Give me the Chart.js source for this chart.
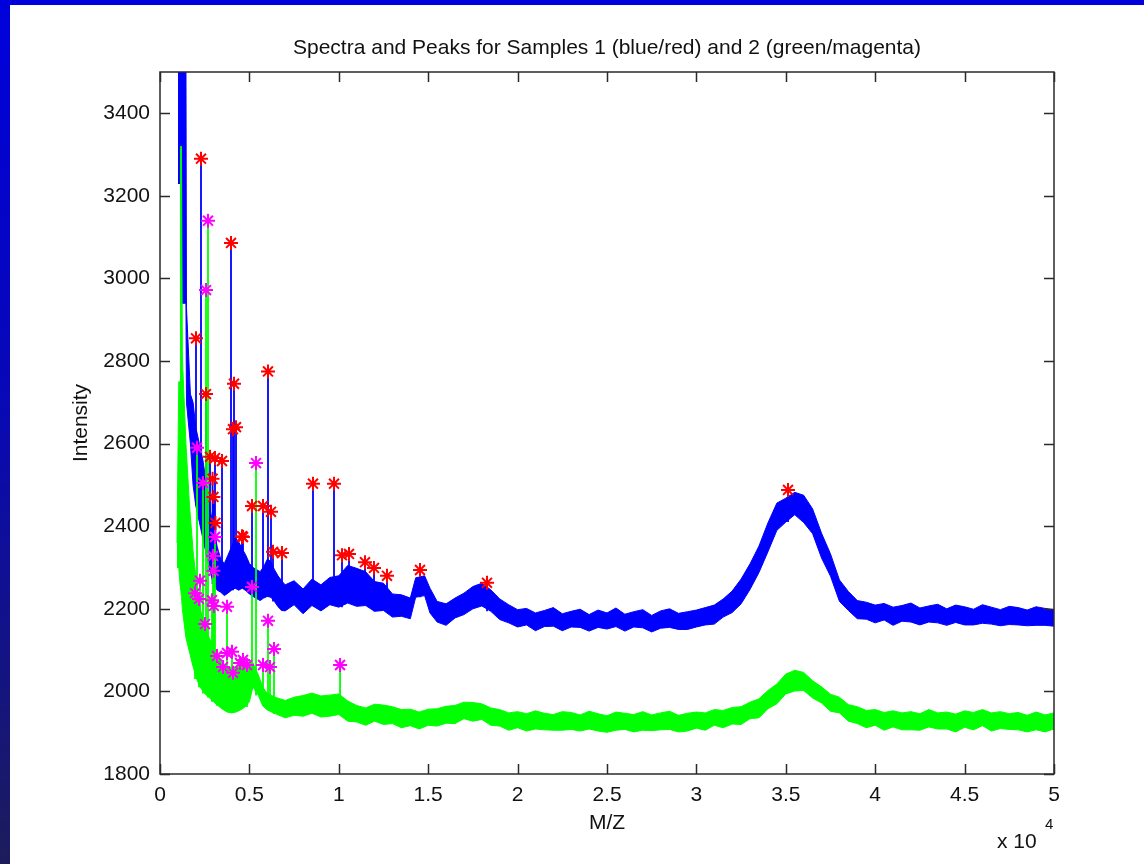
<!DOCTYPE html>
<html>
<head>
<meta charset="utf-8">
<script src="https://cdn.jsdelivr.net/npm/chart.js@4.4.1/dist/chart.umd.min.js"></script>
<style>
  html, body { margin: 0; padding: 0; }
  body {
    width: 1144px; height: 864px; overflow: hidden; position: relative;
    background: linear-gradient(to bottom, #0000dc 0%, #0808b8 45%, #1c1c5c 100%);
  }
  #panel { position: absolute; left: 10px; top: 5px; width: 1134px; height: 859px; background: #fff; }
</style>
</head>
<body>
<div id="panel"><canvas id="spectra" width="1134" height="859"></canvas></div>
<script>
// Sample 1 spectrum: noise band as upper / lower envelope per m/z
const blueMz = [1000, 1150, 1180, 1450, 1480, 1700, 1850,
  2000, 2200, 2400, 2600, 2800, 3000, 3200, 3400, 3600, 3800, 4000, 4200, 4400, 4600, 4800,
  5000, 5200, 5400, 5600, 5800, 6000, 6200, 6400, 6600, 6800, 7000,
  7500, 8000, 8500, 9000, 9500, 10000, 10500, 11000, 11500, 12000, 12500, 13000, 13500, 14000,
  14300, 14800, 15100,
  15500, 16000, 16500, 17000, 17500, 18000, 18500, 19000, 19500, 20000,
  20500, 21000, 21500, 22000, 22500, 23000, 23500, 24000, 24500, 25000,
  25500, 26000, 26500, 27000, 27500, 28000, 28500, 29000, 29500, 30000,
  30500, 31000, 31500, 32000, 32500, 33000, 33500, 34000, 34500, 35000,
  35500, 36000, 36500, 37000, 37500, 38000, 38500, 39000, 39500, 40000,
  40500, 41000, 41500, 42000, 42500, 43000, 43500, 44000, 44500, 45000,
  45500, 46000, 46500, 47000, 47500, 48000, 48500, 49000, 49500, 50000];
const blueHigh = [3560, 3560, 3560, 3560, 2930, 2720, 2700,
  2640, 2600, 2560, 2500, 2440, 2400, 2350, 2320, 2310, 2330, 2350, 2372, 2362, 2345, 2330,
  2310, 2300, 2295, 2290, 2302, 2320, 2315, 2295, 2280, 2268, 2258,
  2268, 2248, 2272, 2258, 2276, 2280, 2305, 2298, 2290, 2266, 2262, 2236, 2234, 2226,
  2275, 2280, 2250,
  2218, 2212, 2226, 2238, 2254, 2262, 2246, 2224, 2210, 2198,
  2201, 2190, 2196, 2203, 2188, 2194, 2199, 2186, 2197, 2190,
  2202, 2187, 2193, 2198, 2184, 2195, 2200, 2189, 2193, 2197,
  2203, 2209, 2224, 2243, 2272, 2309, 2352, 2408, 2456, 2468,
  2482, 2475, 2442, 2383, 2333, 2270, 2242, 2220, 2216, 2209,
  2213, 2204, 2208, 2214, 2202, 2207, 2211, 2200, 2209, 2205,
  2199, 2210, 2204, 2198, 2206, 2203, 2197, 2205, 2201, 2198];
const blueLow = [3230, 3230, 2940, 2940, 2700, 2600, 2500,
  2450, 2410, 2370, 2330, 2290, 2260, 2245, 2240, 2232, 2238, 2245, 2250, 2245, 2250, 2244,
  2236, 2230, 2225, 2220, 2226, 2230, 2228, 2218, 2205, 2196, 2195,
  2210, 2188, 2208, 2195, 2210, 2204, 2214, 2206, 2208, 2194, 2196, 2180, 2182, 2176,
  2228, 2232, 2190,
  2168, 2160, 2178, 2186, 2200, 2207, 2194, 2174, 2166, 2156,
  2161, 2147, 2157, 2158, 2147, 2156, 2155, 2146, 2155, 2151,
  2157, 2146, 2156, 2154, 2144, 2153, 2155, 2150, 2150, 2156,
  2161, 2163, 2180, 2191, 2212, 2247, 2288, 2338, 2390, 2410,
  2428, 2409, 2382, 2323, 2279, 2218, 2196, 2176, 2175, 2166,
  2173, 2160, 2170, 2168, 2161, 2168, 2166, 2160, 2167, 2161,
  2161, 2165, 2163, 2159, 2162, 2161, 2159, 2160, 2160, 2158];

// Sample 2 spectrum
const greenMz = [950, 1050, 1120, 1150, 1200, 1250, 1450, 1650, 1850, 2050, 2250,
  2500, 2750, 3000, 3250, 3500, 3750, 4000, 4250, 4500, 4750, 5000, 5200, 5500, 5750, 6000, 6500,
  7000, 7500, 8000, 8500, 9000, 9500,
  10000, 10500, 11000, 11500, 12000, 12500, 13000, 13500, 14000, 14500,
  15000, 15500, 16000, 16500, 17000, 17500, 18000, 18500, 19000, 19500,
  20000, 20500, 21000, 21500, 22000, 22500, 23000, 23500, 24000, 24500,
  25000, 25500, 26000, 26500, 27000, 27500, 28000, 28500, 29000, 29500,
  30000, 30500, 31000, 31500, 32000, 32500, 33000, 33500, 34000, 34500,
  35000, 35500, 36000, 36500, 37000, 37500, 38000, 38500, 39000, 39500,
  40000, 40500, 41000, 41500, 42000, 42500, 43000, 43500, 44000, 44500,
  45000, 45500, 46000, 46500, 47000, 47500, 48000, 48500, 49000, 49500, 50000];
const greenHigh = [2360, 2750, 2750, 3320, 3320, 2810, 2600, 2450, 2340, 2260, 2200,
  2160, 2130, 2110, 2085, 2070, 2060, 2058, 2060, 2066, 2070, 2072, 2069, 2040, 2010, 1995, 1985,
  1978, 1986, 1990, 1996, 1989, 1991,
  1994, 1977, 1966, 1960, 1969, 1967, 1963, 1956, 1957, 1950,
  1957, 1958, 1964, 1966, 1974, 1973, 1970, 1960, 1956, 1948,
  1951, 1946, 1953, 1947, 1944, 1951, 1949, 1943, 1952, 1946,
  1941, 1950, 1947, 1944, 1951, 1943, 1948, 1952, 1942, 1947,
  1950, 1948, 1956, 1954, 1961, 1963, 1974, 1982, 2002, 2018,
  2042, 2051, 2046, 2026, 2011, 1993, 1986, 1968, 1963, 1954,
  1956, 1949, 1953, 1948, 1951, 1946, 1956, 1948, 1950, 1945,
  1953, 1949, 1956, 1948, 1951, 1946, 1949, 1942, 1950, 1943, 1948];
const greenLow = [2300, 2300, 2260, 2250, 2230, 2200, 2130, 2095, 2060, 2030, 2010,
  1995, 1985, 1975, 1965, 1957, 1950, 1948, 1950, 1955, 1962, 1975, 2011, 1990, 1965, 1955, 1945,
  1936, 1942, 1940, 1947, 1938, 1940,
  1944, 1928, 1926, 1918, 1928, 1920, 1922, 1912, 1917, 1909,
  1918, 1916, 1923, 1922, 1934, 1928, 1932, 1918, 1916, 1906,
  1912, 1904, 1909, 1907, 1906, 1906, 1908, 1904, 1909, 1904,
  1901, 1906, 1908, 1902, 1906, 1905, 1907, 1908, 1902, 1904,
  1911, 1906, 1918, 1912, 1921, 1920, 1934, 1936, 1958, 1970,
  1994, 2001, 2002, 1984, 1972, 1952, 1948, 1928, 1922, 1912,
  1918, 1906, 1914, 1907, 1907, 1906, 1914, 1909, 1909, 1902,
  1913, 1907, 1917, 1904, 1910, 1908, 1907, 1902, 1907, 1902, 1909];

// Detected peaks, sample 1 (red) and sample 2 (magenta)
const redPeakMz = [2013, 2293, 2573, 2797, 2940, 2990, 3076, 3100, 3468, 3971, 4083, 4139, 4251,
  4586, 4642, 5146, 5761, 6040, 6208, 6320, 6823, 8557, 9732, 10179, 10571, 11466, 11969,
  12696, 14542, 18289, 35124];
const redPeakIntensity = [2855, 3290, 2720, 2568, 2515, 2471, 2565, 2408, 2558, 3086, 2635, 2745, 2640,
  2376, 2374, 2449, 2449, 2775, 2435, 2338, 2335, 2503, 2503, 2330, 2333, 2313, 2299,
  2280, 2294, 2263, 2488];
const magentaPeakMz = [1958, 2070, 2180, 2237, 2405, 2517, 2573, 2685, 2908, 2964, 2990, 3010,
  3076, 3188, 3524, 3747, 3747, 4027, 4083, 4474, 4642, 4866, 5146, 5370, 5761, 6040, 6152,
  6376, 10070];
const magentaPeakIntensity = [2238, 2590, 2224, 2268, 2505, 2163, 2972, 3140, 2221, 2328, 2292, 2207,
  2374, 2086, 2059, 2205, 2093, 2096, 2045, 2069, 2076, 2064, 2253, 2553, 2064, 2171, 2059,
  2103, 2064];

const TITLE = 'Spectra and Peaks for Samples 1 (blue/red) and 2 (green/magenta)';
const BLUE = '#0000ff';
const GREEN = '#00ff00';
const RED = '#ff0000';
const MAGENTA = '#ff00ff';
const AXIS = '#2a2a2a';
const TEXT = '#111';
const FONT = "'Liberation Sans', Arial, Helvetica, sans-serif";
const TICK = 10;

function band(mz, vals) {
  return mz.map((x, i) => ({ x, y: vals[i] }));
}

// base of a peak stem = lower edge of the band at the closest sample
function baseAt(mz, lows, x) {
  let best = 0;
  mz.forEach((m, i) => { if (Math.abs(m - x) < Math.abs(mz[best] - x)) best = i; });
  return lows[best];
}

function stems(peakMz, peakVal, mz, lows) {
  const pts = [];
  peakMz.forEach((x, i) => {
    pts.push({ x, y: Math.min(baseAt(mz, lows, x), peakVal[i]) }, { x, y: peakVal[i] }, { x, y: null });
  });
  return pts;
}

// boxed axes with inward ticks on all four sides, title and the x10^4 exponent
const boxAxes = {
  id: 'boxAxes',
  afterDatasetsDraw(chart) {
    const { ctx, chartArea: a, scales: { x, y } } = chart;
    ctx.save();
    ctx.strokeStyle = AXIS;
    ctx.lineWidth = 1.5;
    ctx.strokeRect(a.left, a.top, a.right - a.left, a.bottom - a.top);
    ctx.beginPath();
    x.ticks.forEach(t => {
      const px = Math.round(x.getPixelForValue(t.value)) + 0.5;
      ctx.moveTo(px, a.bottom); ctx.lineTo(px, a.bottom - TICK);
      ctx.moveTo(px, a.top); ctx.lineTo(px, a.top + TICK);
    });
    y.ticks.forEach(t => {
      const py = Math.round(y.getPixelForValue(t.value)) + 0.5;
      ctx.moveTo(a.left, py); ctx.lineTo(a.left + TICK, py);
      ctx.moveTo(a.right, py); ctx.lineTo(a.right - TICK, py);
    });
    ctx.stroke();

    ctx.fillStyle = TEXT;
    ctx.textAlign = 'center';
    ctx.textBaseline = 'middle';
    ctx.font = `21px ${FONT}`;
    ctx.fillText(TITLE, (a.left + a.right) / 2, a.top - 24);

    ctx.textAlign = 'left';
    ctx.textBaseline = 'alphabetic';
    ctx.font = `21px ${FONT}`;
    ctx.fillText('x 10', a.right - 57, a.bottom + 74);
    ctx.font = `15px ${FONT}`;
    ctx.fillText('4', a.right - 9, a.bottom + 55);
    ctx.restore();
  }
};

const lineBase = { pointRadius: 0, borderWidth: 1, tension: 0 };

new Chart(document.getElementById('spectra'), {
  type: 'line',
  data: {
    datasets: [
      { ...lineBase, data: band(blueMz, blueHigh), borderColor: BLUE, backgroundColor: BLUE, fill: '+1', order: 5 },
      { ...lineBase, data: band(blueMz, blueLow), borderColor: BLUE, fill: false, order: 5 },
      { ...lineBase, data: band(greenMz, greenHigh), borderColor: GREEN, backgroundColor: GREEN, fill: '+1', order: 4 },
      { ...lineBase, data: band(greenMz, greenLow), borderColor: GREEN, fill: false, order: 4 },
      { ...lineBase, data: stems(redPeakMz, redPeakIntensity, blueMz, blueLow), borderColor: BLUE, borderWidth: 1.8, spanGaps: false, fill: false, order: 3 },
      { ...lineBase, data: stems(magentaPeakMz, magentaPeakIntensity, greenMz, greenLow), borderColor: GREEN, borderWidth: 1.8, spanGaps: false, fill: false, order: 2 },
      {
        data: redPeakMz.map((x, i) => ({ x, y: redPeakIntensity[i] })),
        showLine: false, pointStyle: 'star', pointRadius: 7, pointBorderWidth: 2,
        borderColor: RED, backgroundColor: RED, order: 1
      },
      {
        data: magentaPeakMz.map((x, i) => ({ x, y: magentaPeakIntensity[i] })),
        showLine: false, pointStyle: 'star', pointRadius: 7, pointBorderWidth: 2,
        borderColor: MAGENTA, backgroundColor: MAGENTA, order: 0
      }
    ]
  },
  options: {
    responsive: false,
    animation: false,
    events: [],
    layout: { padding: { left: 0, right: 90, top: 67, bottom: 0 } },
    plugins: {
      legend: { display: false },
      tooltip: { enabled: false },
      title: { display: false }
    },
    scales: {
      x: {
        type: 'linear',
        min: 0,
        max: 50000,
        grid: { display: false, drawTicks: false },
        border: { display: false },
        ticks: {
          stepSize: 5000, autoSkip: false, maxRotation: 0, padding: 9,
          color: TEXT, font: { family: FONT, size: 21 },
          callback: v => String(v / 1e4)
        },
        title: { display: true, text: 'M/Z', color: TEXT, font: { family: FONT, size: 21 }, padding: { top: 0, bottom: 28 } },
        afterFit: s => { s.height = 90; }
      },
      y: {
        type: 'linear',
        min: 1800,
        max: 3500,
        grid: { display: false, drawTicks: false },
        border: { display: false },
        ticks: {
          stepSize: 200, includeBounds: false, padding: 10,
          color: TEXT, font: { family: FONT, size: 21 },
          callback: v => String(v)
        },
        title: { display: true, text: 'Intensity', color: TEXT, font: { family: FONT, size: 21 }, padding: { top: 59, bottom: 0 } },
        afterFit: s => { s.width = 150; }
      }
    }
  },
  plugins: [boxAxes]
});
</script>
</body>
</html>
